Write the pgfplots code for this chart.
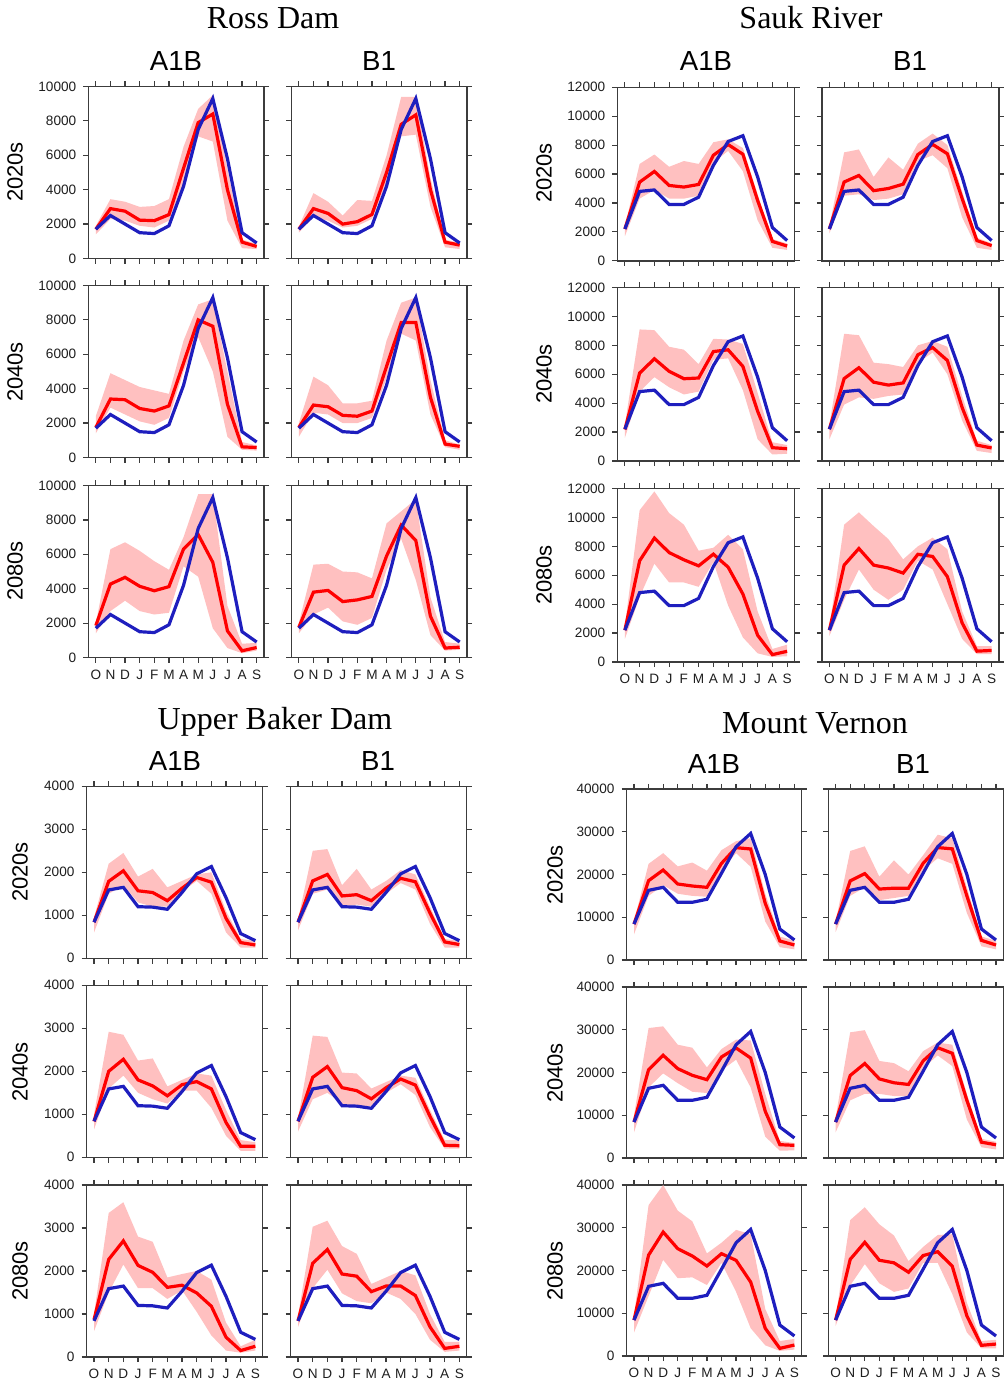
\documentclass[border=0pt]{standalone}
\usepackage{fontspec}
\setmainfont{Liberation Sans}
\newfontfamily\titlefont{Liberation Serif}
\usepackage{pgfplots}
\usepackage{pgfplotstable}
\pgfplotsset{compat=1.18}

\definecolor{axgray}{RGB}{60,60,60}
\definecolor{txtgray}{RGB}{30,30,30}
\definecolor{bandpink}{RGB}{255,192,192}
\definecolor{obsblue}{RGB}{30,30,190}
\definecolor{projred}{RGB}{255,0,0}

% historical (blue) per site
\pgfplotstableread{
m b
0 1700
1 2500
2 2000
3 1500
4 1450
5 1900
6 4200
7 7500
8 9300
9 5800
10 1500
11 900
}\Rh
\pgfplotstableread{
m b
0 2200
1 4800
2 4900
3 3900
4 3900
5 4400
6 6600
7 8250
8 8650
9 5800
10 2300
11 1400
}\Sh
\pgfplotstableread{
m b
0 840
1 1590
2 1650
3 1200
4 1190
5 1140
6 1530
7 1965
8 2135
9 1410
10 575
11 410
}\Uh
\pgfplotstableread{
m b
0 8400
1 16300
2 17000
3 13500
4 13500
5 14200
6 20300
7 26500
8 29600
9 20000
10 7250
11 4680
}\Mh

% Ross Dam
\pgfplotstableread{
m lo hi r
0 1400 1900 1700
1 2300 3450 2900
2 2200 3300 2750
3 1900 3000 2230
4 1800 3050 2200
5 2200 3450 2550
6 4400 6500 5250
7 7100 8700 7900
8 6800 9500 8400
9 2200 5200 4000
10 600 1100 950
11 550 850 700
}\RAa
\pgfplotstableread{
m lo hi r
0 1500 1850 1700
1 2400 3800 2900
2 2200 3300 2620
3 1800 2500 2000
4 1900 3400 2140
5 2300 3350 2560
6 4400 6000 5000
7 7100 9400 7800
8 7200 9400 8350
9 3000 4700 4000
10 650 1100 950
11 550 900 780
}\RBa
\pgfplotstableread{
m lo hi r
0 1400 2400 1750
1 2900 4900 3400
2 2500 4500 3360
3 2100 4100 2850
4 1900 3900 2700
5 2300 3700 3000
6 5000 6800 5500
7 7000 8900 8000
8 5000 9200 7630
9 1200 5000 3100
10 450 900 620
11 400 700 580
}\RAb
\pgfplotstableread{
m lo hi r
0 1200 2000 1750
1 2600 4700 3050
2 2500 4200 2950
3 2000 3150 2450
4 2000 3150 2400
5 2300 3300 2700
6 4600 6800 5300
7 7200 9000 7850
8 6800 9300 7850
9 2500 4500 3500
10 600 1000 780
11 450 750 650
}\RBb
\pgfplotstableread{
m lo hi r
0 1400 2000 1850
1 2700 6300 4270
2 3300 6700 4660
3 2700 6200 4140
4 2500 5600 3880
5 2600 5100 4120
6 5300 7000 6310
7 4700 9500 7150
8 1700 9500 5530
9 550 3000 1550
10 250 800 390
11 400 850 580
}\RAc
\pgfplotstableread{
m lo hi r
0 1400 2000 1750
1 2500 5400 3800
2 2900 5450 3900
3 2100 5000 3250
4 1900 4950 3350
5 2300 4600 3550
6 5100 7800 5900
7 6900 8500 7700
8 4500 9200 6800
9 1300 3500 2400
10 400 900 550
11 450 800 600
}\RBc

% Sauk River
\pgfplotstableread{
m lo hi r
0 1700 2400 2200
1 4300 6700 5440
2 4900 7350 6180
3 4300 6500 5210
4 4300 6900 5100
5 4500 6700 5280
6 6800 8200 7300
7 7600 8400 8040
8 6200 7800 7370
9 2800 4600 4170
10 900 1500 1340
11 750 1200 1020
}\SAa
\pgfplotstableread{
m lo hi r
0 1900 2400 2200
1 4500 7500 5450
2 4600 7700 5900
3 4200 5800 4850
4 4300 7150 5000
5 4600 6300 5300
6 6900 8100 7350
7 7300 8800 8050
8 6400 8000 7400
9 3000 4800 4300
10 900 1600 1400
11 750 1200 1050
}\SBa
\pgfplotstableread{
m lo hi r
0 1600 2500 2180
1 4800 9100 6080
2 5800 9050 7070
3 5100 7900 6200
4 4600 7700 5690
5 4800 6700 5740
6 7000 8450 7570
7 7100 8400 7690
8 4900 8100 6540
9 1500 4700 3440
10 450 1300 920
11 500 1100 850
}\SAb
\pgfplotstableread{
m lo hi r
0 1500 2500 2200
1 3900 8800 5700
2 4400 8700 6450
3 4300 6800 5450
4 4500 6700 5250
5 4600 6500 5400
6 6800 8000 7350
7 7500 8300 7850
8 6000 7900 6950
9 2800 4500 3700
10 700 1400 1100
11 550 1100 900
}\SBb
\pgfplotstableread{
m lo hi r
0 1600 2500 2200
1 4500 10500 7000
2 6800 11800 8570
3 5500 10300 7570
4 5500 9500 7070
5 5200 7700 6650
6 6900 7900 7460
7 3900 8800 6560
8 1700 7800 4700
9 600 3500 1850
10 350 900 510
11 400 1200 740
}\SAc
\pgfplotstableread{
m lo hi r
0 1800 2400 2200
1 4300 9500 6700
2 6400 10350 7850
3 5000 9400 6700
4 4300 8500 6500
5 5000 7100 6150
6 7000 8000 7450
7 6400 8600 7300
8 4000 7800 5900
9 1600 3500 2700
10 550 1100 750
11 550 1100 800
}\SBc

% Upper Baker Dam
\pgfplotstableread{
m lo hi r
0 600 950 840
1 1500 2200 1790
2 1700 2450 2035
3 1300 1900 1570
4 1200 2080 1530
5 1200 1650 1340
6 1550 1800 1630
7 1800 1950 1880
8 1500 2000 1770
9 600 1100 930
10 250 450 365
11 250 400 310
}\UAa
\pgfplotstableread{
m lo hi r
0 650 900 840
1 1500 2500 1800
2 1600 2540 1950
3 1200 1700 1450
4 1250 2080 1480
5 1200 1600 1340
6 1500 1800 1630
7 1750 2050 1860
8 1600 1950 1780
9 800 1200 1050
10 250 450 380
11 250 400 320
}\UBa
\pgfplotstableread{
m lo hi r
0 650 1000 835
1 1600 2920 2000
2 1900 2850 2280
3 1500 2250 1800
4 1350 2300 1660
5 1250 1650 1430
6 1550 1800 1690
7 1550 1950 1760
8 1150 1900 1590
9 500 1100 810
10 150 400 255
11 150 350 255
}\UAb
\pgfplotstableread{
m lo hi r
0 600 900 835
1 1350 2830 1860
2 1500 2800 2110
3 1250 1970 1620
4 1150 1950 1550
5 1200 1600 1360
6 1500 1750 1620
7 1700 1900 1820
8 1450 1850 1680
9 700 1100 950
10 200 400 280
11 200 400 270
}\UBb
\pgfplotstableread{
m lo hi r
0 600 1000 870
1 1500 3350 2270
2 2150 3600 2700
3 1600 2800 2130
4 1600 2680 1970
5 1350 1850 1620
6 1550 1930 1670
7 1050 2000 1490
8 500 1800 1180
9 150 800 460
10 100 250 150
11 150 400 250
}\UAc
\pgfplotstableread{
m lo hi r
0 700 950 840
1 1600 3030 2180
2 2030 3170 2500
3 1480 2580 1930
4 1300 2400 1880
5 1250 1700 1520
6 1500 1850 1650
7 1350 2000 1650
8 1000 1900 1430
9 400 1000 700
10 120 350 200
11 150 350 250
}\UBc

% Mount Vernon
\pgfplotstableread{
m lo hi r
0 6000 9000 8400
1 15000 22500 18560
2 17500 25000 21050
3 15500 21900 17780
4 15000 22800 17310
5 14800 20900 17000
6 21000 25700 22610
7 25000 27800 26280
8 21800 28500 25970
9 9000 15500 13260
10 3000 5500 4440
11 2500 4500 3510
}\MAa
\pgfplotstableread{
m lo hi r
0 6500 9000 8400
1 15000 25500 18500
2 17000 26600 20200
3 14000 19500 16600
4 14500 23300 16800
5 15000 20000 16800
6 21000 24500 22600
7 23800 29300 26300
8 22500 28500 26000
9 11000 17000 15000
10 3200 5500 4600
11 2500 4500 3500
}\MBa
\pgfplotstableread{
m lo hi r
0 6000 10000 8420
1 16500 30400 20660
2 19800 30800 24020
3 17500 26500 20900
4 15500 25800 19340
5 15200 21200 18320
6 20500 25500 23630
7 23000 27700 25730
8 16500 27500 23390
9 5000 15000 10920
10 1700 4000 3120
11 1800 3500 2960
}\MAb
\pgfplotstableread{
m lo hi r
0 6000 9500 8400
1 13500 29400 19300
2 15000 29900 22100
3 15000 22700 18500
4 14500 22200 17600
5 14500 20300 17200
6 21000 25000 22700
7 24000 27000 25800
8 21500 26500 24500
9 9000 15000 13500
10 2500 4500 3700
11 2000 3800 3100
}\MBb
\pgfplotstableread{
m lo hi r
0 5500 9500 8400
1 14000 35300 23600
2 22500 40000 29000
3 18200 34000 25100
4 18400 31500 23390
5 16600 24000 21050
6 21800 26500 23940
7 15000 29500 22380
8 6500 28500 17310
9 2500 11000 6470
10 1200 3500 1790
11 1500 4000 2570
}\MAc
\pgfplotstableread{
m lo hi r
0 7000 9000 8400
1 16500 31800 22600
2 21500 34800 26600
3 17000 30800 22400
4 15000 28200 21800
5 15800 22200 19600
6 21800 25500 23500
7 21800 28300 24400
8 14500 28500 21000
9 5500 12500 9400
10 1800 3500 2500
11 1800 3800 2800
}\MBc

\pgfplotsset{
  panel/.style={
    scale only axis, xmin=-0.5, xmax=11.5, ymin=0,
    xtick={0,...,11}, xticklabels={O,N,D,J,F,M,A,M,J,J,A,S},
    xtick pos=both, ytick pos=both, tick align=outside,
    major tick length=2.6pt,
    axis line style={draw=axgray, line width=0.75pt},
    tick style={draw=axgray, line width=0.6pt},
    tick label style={font=\fontsize{6.8}{8}\selectfont, text=txtgray},
    scaled y ticks=false,
    yticklabel style={/pgf/number format/assume math mode=true,
      /pgf/number format/set thousands separator={}},
  },
}

% #1 left, #2 top, #3 width, #4 height (pt), #5 ymax, #6 yticks, #7 extra, #8 table, #9 historical
\newcommand{\panel}[9]{%
\begin{axis}[panel, at={(#1pt,-#2pt)}, anchor=north west,
  width=#3pt, height=#4pt, ymax=#5, ytick={#6}, #7]
\addplot[draw=none, stack plots=y, forget plot] table[x=m, y=lo] {#8};
\addplot[fill=bandpink, draw=none, stack plots=y]
  table[x=m, y expr=\thisrow{hi}-\thisrow{lo}] {#8} \closedcycle;
\addplot[projred, line width=1.6pt, stack plots=false] table[x=m, y=r] {#8};
\addplot[obsblue, line width=1.6pt, stack plots=false] table[x=m, y=b] {#9};
\end{axis}}

\begin{document}
\begin{tikzpicture}
\useasboundingbox (0,0) rectangle (501.5pt,-692pt);

% Ross Dam
\panel{44.25}{43.25}{87.75}{86}{10000}{0,2000,...,10000}{xticklabels={}}{\RAa}{\Rh}
\panel{145.75}{43.25}{87.75}{86}{10000}{0,2000,...,10000}{xticklabels={},yticklabels={}}{\RBa}{\Rh}
\panel{44.25}{142.75}{87.75}{86}{10000}{0,2000,...,10000}{xticklabels={}}{\RAb}{\Rh}
\panel{145.75}{142.75}{87.75}{86}{10000}{0,2000,...,10000}{xticklabels={},yticklabels={}}{\RBb}{\Rh}
\panel{44.25}{242.75}{87.75}{86}{10000}{0,2000,...,10000}{}{\RAc}{\Rh}
\panel{145.75}{242.75}{87.75}{86}{10000}{0,2000,...,10000}{yticklabels={}}{\RBc}{\Rh}

% Sauk River
\panel{308.75}{43.65}{88.5}{86.75}{12000}{0,2000,...,12000}{xticklabels={}}{\SAa}{\Sh}
\panel{411}{43.65}{88.5}{86.75}{12000}{0,2000,...,12000}{xticklabels={},yticklabels={}}{\SBa}{\Sh}
\panel{308.75}{143.75}{88.5}{86.75}{12000}{0,2000,...,12000}{xticklabels={}}{\SAb}{\Sh}
\panel{411}{143.75}{88.5}{86.75}{12000}{0,2000,...,12000}{xticklabels={},yticklabels={}}{\SBb}{\Sh}
\panel{308.75}{244.25}{88.5}{86.75}{12000}{0,2000,...,12000}{}{\SAc}{\Sh}
\panel{411}{244.25}{88.5}{86.75}{12000}{0,2000,...,12000}{yticklabels={}}{\SBc}{\Sh}

% Upper Baker Dam
\panel{43.35}{393.15}{88}{86}{4000}{0,1000,...,4000}{xticklabels={}}{\UAa}{\Uh}
\panel{145.35}{393.15}{88}{86}{4000}{0,1000,...,4000}{xticklabels={},yticklabels={}}{\UBa}{\Uh}
\panel{43.35}{492.65}{88}{86}{4000}{0,1000,...,4000}{xticklabels={}}{\UAb}{\Uh}
\panel{145.35}{492.65}{88}{86}{4000}{0,1000,...,4000}{xticklabels={},yticklabels={}}{\UBb}{\Uh}
\panel{43.35}{592.5}{88}{86}{4000}{0,1000,...,4000}{}{\UAc}{\Uh}
\panel{145.35}{592.5}{88}{86}{4000}{0,1000,...,4000}{yticklabels={}}{\UBc}{\Uh}

% Mount Vernon
\panel{313.35}{394.5}{87.5}{85.5}{40000}{0,10000,...,40000}{xticklabels={}}{\MAa}{\Mh}
\panel{414.15}{394.5}{87.5}{85.5}{40000}{0,10000,...,40000}{xticklabels={},yticklabels={}}{\MBa}{\Mh}
\panel{313.35}{493.5}{87.5}{85.5}{40000}{0,10000,...,40000}{xticklabels={}}{\MAb}{\Mh}
\panel{414.15}{493.5}{87.5}{85.5}{40000}{0,10000,...,40000}{xticklabels={},yticklabels={}}{\MBb}{\Mh}
\panel{313.35}{592.5}{87.5}{85.5}{40000}{0,10000,...,40000}{}{\MAc}{\Mh}
\panel{414.15}{592.5}{87.5}{85.5}{40000}{0,10000,...,40000}{yticklabels={}}{\MBc}{\Mh}

% site titles
\begin{scope}[every node/.style={font=\titlefont\fontsize{16}{18}\selectfont, inner sep=0pt}]
\node at (136.5pt,-9pt) {Ross Dam};
\node at (405.5pt,-9pt) {Sauk River};
\node at (137.5pt,-361pt) {Upper Baker Dam};
\node at (407.5pt,-361.5pt) {Mount Vernon};
\end{scope}

% scenario labels
\begin{scope}[every node/.style={font=\fontsize{13.8}{15}\selectfont, inner sep=0pt}]
\node at (88pt,-30.5pt) {A1B};
\node at (189.5pt,-30.5pt) {B1};
\node at (353pt,-30.5pt) {A1B};
\node at (455pt,-30.5pt) {B1};
\node at (87.5pt,-380.5pt) {A1B};
\node at (189pt,-380.5pt) {B1};
\node at (357pt,-382pt) {A1B};
\node at (456.5pt,-382pt) {B1};
\end{scope}

% period labels
\begin{scope}[every node/.style={font=\fontsize{11}{13}\selectfont, inner sep=0pt, rotate=90}]
\node at (7.5pt,-86pt) {2020s};
\node at (7.5pt,-186pt) {2040s};
\node at (7.5pt,-285.5pt) {2080s};
\node at (272pt,-86.5pt) {2020s};
\node at (272pt,-187pt) {2040s};
\node at (272pt,-287.5pt) {2080s};
\node at (10pt,-436pt) {2020s};
\node at (10pt,-536pt) {2040s};
\node at (10pt,-635.5pt) {2080s};
\node at (277.5pt,-437.5pt) {2020s};
\node at (277.5pt,-536.5pt) {2040s};
\node at (277.5pt,-635.5pt) {2080s};
\end{scope}
\end{tikzpicture}
\end{document}
